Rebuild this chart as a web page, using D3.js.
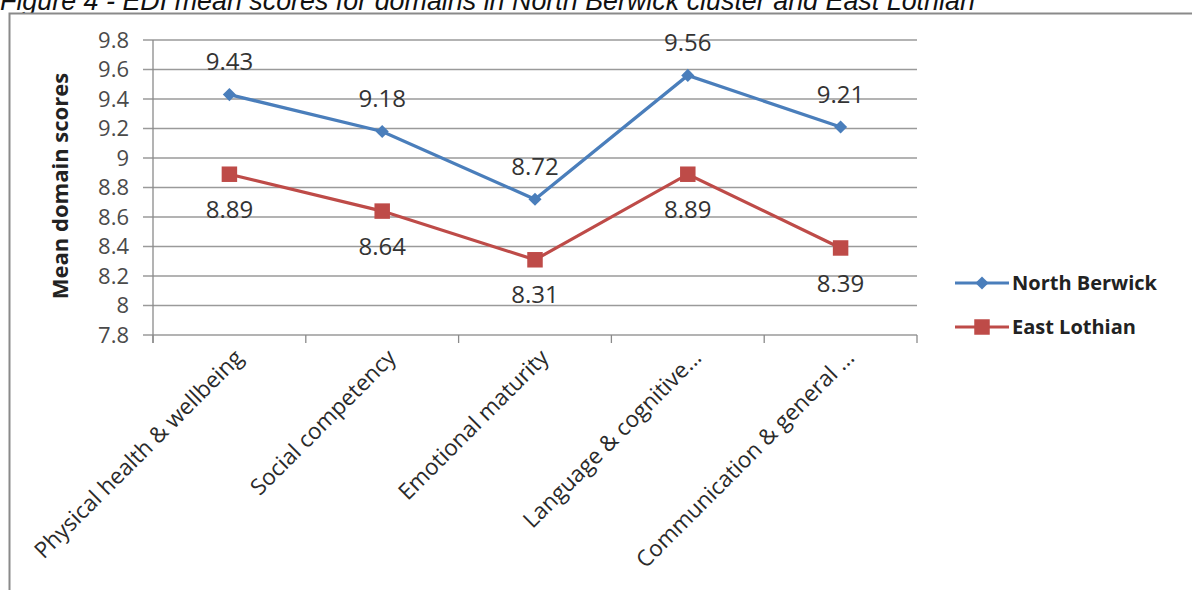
<!DOCTYPE html>
<html>
<head>
<meta charset="utf-8">
<script src="https://cdn.jsdelivr.net/npm/d3@7"></script>
<style>
  body { margin: 0; background: #fff; overflow: hidden; }
  svg { display: block; }
</style>
</head>
<body>
<div id="chart"></div>
<script>
// data
var categories = ["Physical health & wellbeing", "Social competency", "Emotional maturity",
  "Language & cognitive...", "Communication & general ..."];
var northBerwick = [9.43, 9.18, 8.72, 9.56, 9.21];
var eastLothian = [8.89, 8.64, 8.31, 8.89, 8.39];
var seriesNames = ["North Berwick", "East Lothian"];
var yTicks = [7.8, 8, 8.2, 8.4, 8.6, 8.8, 9, 9.2, 9.4, 9.6, 9.8];
var titleText = "Figure 4 - EDI mean scores for domains in North Berwick cluster and East Lothian";

var svgWidth = 1192;
var svgHeight = 590;

var margin = { top: 40, right: 275, bottom: 255, left: 153 };
var width = svgWidth - margin.left - margin.right;
var height = svgHeight - margin.top - margin.bottom;

var blue = "#4a7ebb";
var red = "#be4b48";
var font = "'Open Sans', sans-serif";

var svg = d3.select("#chart")
  .append("svg")
  .attr("width", svgWidth)
  .attr("height", svgHeight);

// caption above the frame (partly cut off at the top, as in the source)
var title = svg.append("text")
  .attr("x", 0)
  .attr("y", 10)
  .attr("font-family", "'Liberation Sans', Arial, sans-serif")
  .attr("font-style", "italic")
  .attr("font-size", 21)
  .attr("fill", "#111")
  .text(titleText);
var tl = title.node().getComputedTextLength();
title.attr("font-size", 21 * 975 / tl);

// chart frame
svg.append("rect")
  .attr("x", 9.5)
  .attr("y", 13.5)
  .attr("width", 1250)
  .attr("height", 650)
  .attr("fill", "#fff")
  .attr("stroke", "#8a8a8a")
  .attr("stroke-width", 2);

var chartGroup = svg.append("g")
  .attr("transform", `translate(${margin.left}, ${margin.top})`);

var xBand = d3.scaleBand()
  .domain(categories)
  .range([0, width]);

var yLinearScale = d3.scaleLinear()
  .domain([7.8, 9.8])
  .range([height, 0]);

// gridlines
chartGroup.append("g")
  .selectAll("line")
  .data(yTicks)
  .enter()
  .append("line")
  .attr("x1", -10)
  .attr("x2", width)
  .attr("y1", d => yLinearScale(d))
  .attr("y2", d => yLinearScale(d))
  .attr("stroke", "#9a9a9a")
  .attr("stroke-width", 1.3);

// y axis line
chartGroup.append("line")
  .attr("x1", 0).attr("x2", 0)
  .attr("y1", 0).attr("y2", height + 8)
  .attr("stroke", "#8a8a8a")
  .attr("stroke-width", 1.3);

// y tick labels
chartGroup.append("g")
  .selectAll("text")
  .data(yTicks)
  .enter()
  .append("text")
  .attr("x", -24)
  .attr("y", d => yLinearScale(d))
  .attr("dy", "0.36em")
  .attr("text-anchor", "end")
  .attr("font-family", font)
  .attr("font-size", 22)
  .attr("fill", "#4a4a4a")
  .text(d => String(d));

// x tick marks at category boundaries
var xBounds = categories.map(c => xBand(c)).concat([width]);
chartGroup.append("g")
  .selectAll("line")
  .data(xBounds)
  .enter()
  .append("line")
  .attr("x1", d => d).attr("x2", d => d)
  .attr("y1", height).attr("y2", height + 8)
  .attr("stroke", "#8a8a8a")
  .attr("stroke-width", 1.3);

// x labels, rotated
chartGroup.append("g")
  .selectAll("text")
  .data(categories)
  .enter()
  .append("text")
  .attr("text-anchor", "end")
  .attr("font-family", font)
  .attr("font-size", 22.5)
  .attr("fill", "#2a2a2a")
  .attr("transform", d => `translate(${xBand(d) + xBand.bandwidth() / 2 + 15}, ${height + 24}) rotate(-45)`)
  .text(d => d);

// y axis title
chartGroup.append("text")
  .attr("transform", "rotate(-90)")
  .attr("x", -146)
  .attr("y", -93)
  .attr("dy", "0.35em")
  .attr("text-anchor", "middle")
  .attr("font-family", font)
  .attr("font-weight", "bold")
  .attr("font-size", 22)
  .attr("fill", "#222")
  .text("Mean domain scores");

var xPos = function(i) { return xBand(categories[i]) + xBand.bandwidth() / 2; };

var line = d3.line()
  .x((d, i) => xPos(i))
  .y(d => yLinearScale(d));

chartGroup.append("path")
  .datum(northBerwick)
  .attr("d", line)
  .attr("fill", "none")
  .attr("stroke", blue)
  .attr("stroke-width", 3.2);

chartGroup.append("path")
  .datum(eastLothian)
  .attr("d", line)
  .attr("fill", "none")
  .attr("stroke", red)
  .attr("stroke-width", 3.2);

var diamond = d3.symbol().type(d3.symbolDiamond2).size(110);
var square = d3.symbol().type(d3.symbolSquare).size(240);

chartGroup.append("g")
  .selectAll("path")
  .data(northBerwick)
  .enter()
  .append("path")
  .attr("d", diamond)
  .attr("transform", (d, i) => `translate(${xPos(i)}, ${yLinearScale(d)})`)
  .attr("fill", blue);

chartGroup.append("g")
  .selectAll("path")
  .data(eastLothian)
  .enter()
  .append("path")
  .attr("d", square)
  .attr("transform", (d, i) => `translate(${xPos(i)}, ${yLinearScale(d)})`)
  .attr("fill", red);

// data labels
chartGroup.append("g")
  .selectAll("text")
  .data(northBerwick)
  .enter()
  .append("text")
  .attr("x", (d, i) => xPos(i))
  .attr("y", d => yLinearScale(d) - 33)
  .attr("dy", "0.36em")
  .attr("text-anchor", "middle")
  .attr("font-family", font)
  .attr("font-size", 24)
  .attr("fill", "#333")
  .text(d => d.toFixed(2));

chartGroup.append("g")
  .selectAll("text")
  .data(eastLothian)
  .enter()
  .append("text")
  .attr("x", (d, i) => xPos(i))
  .attr("y", d => yLinearScale(d) + 35)
  .attr("dy", "0.36em")
  .attr("text-anchor", "middle")
  .attr("font-family", font)
  .attr("font-size", 24)
  .attr("fill", "#333")
  .text(d => d.toFixed(2));

// legend
var legend = svg.append("g")
  .attr("transform", "translate(955, 283)");

var legendRows = legend.selectAll("g")
  .data(seriesNames)
  .enter()
  .append("g")
  .attr("transform", (d, i) => `translate(0, ${i * 44})`);

legendRows.append("line")
  .attr("x1", 0).attr("x2", 54)
  .attr("y1", 0).attr("y2", 0)
  .attr("stroke", (d, i) => i === 0 ? blue : red)
  .attr("stroke-width", 3.2);

legendRows.append("path")
  .attr("d", (d, i) => i === 0 ? diamond() : square())
  .attr("transform", "translate(27, 0)")
  .attr("fill", (d, i) => i === 0 ? blue : red);

legendRows.append("text")
  .attr("x", 57)
  .attr("y", 0)
  .attr("dy", "0.36em")
  .attr("font-family", font)
  .attr("font-weight", "bold")
  .attr("font-size", 20)
  .attr("fill", "#222")
  .text(d => d);
</script>
</body>
</html>
